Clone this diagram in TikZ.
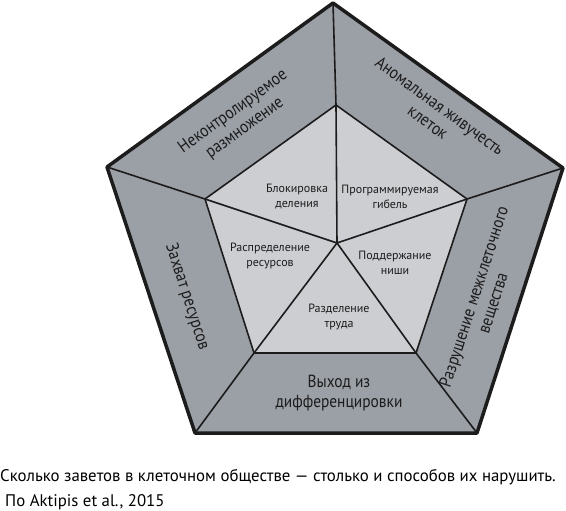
\documentclass[tikz,border=0pt]{standalone}
\usepackage{fontspec}
\setmainfont{PT Sans}
\newfontfamily\narrowfont{PT Sans}[FakeStretch=0.88]
\definecolor{bandgray}{HTML}{9B9FA6}
\definecolor{coregray}{HTML}{CDCED2}
\definecolor{inkgray}{HTML}{1C1C1C}
\tikzset{
  outerlbl/.style={align=center, font=\narrowfont\fontsize{17.5}{20}\selectfont, text=inkgray},
  innerlbl/.style={align=center, font=\fontsize{12}{15}\selectfont, text=inkgray},
  caplbl/.style={anchor=west, inner sep=0pt, font=\fontsize{16.8}{19}\selectfont}
}
\begin{document}
\begin{tikzpicture}[x=1pt, y=-1pt, line join=round]
  \useasboundingbox (0,0) rectangle (566,511);
  % outer and inner corners
  \coordinate (ot) at (333,3);
  \coordinate (or) at (563,168);
  \coordinate (obr) at (477,433);
  \coordinate (obl) at (195,433);
  \coordinate (ol) at (107,167);
  \coordinate (it) at (336,105);
  \coordinate (ir) at (467,199);
  \coordinate (ibr) at (416,353);
  \coordinate (ibl) at (254,353);
  \coordinate (il) at (205,199);
  \coordinate (c) at (337,243);
  \fill [bandgray] (ot) -- (or) -- (obr) -- (obl) -- (ol) -- cycle;
  \fill [coregray] (it) -- (ir) -- (ibr) -- (ibl) -- (il) -- cycle;
  \draw [inkgray, line width=1.6pt] (it) -- (ir) -- (ibr) -- (ibl) -- (il) -- cycle;
  \foreach \k in {t,r,br,bl,l}{
    \draw [inkgray, line width=1.6pt] (o\k) -- (i\k);
    \draw [inkgray, line width=1.6pt] (c) -- (i\k);
  }
  \draw [inkgray, line width=3.5pt] (ot) -- (or) -- (obr) -- (obl) -- (ol) -- cycle;
  % outer band labels
  \node [outerlbl, rotate=36] (repro) at (239,120) {Неконтролируемое\\размножение};
  \node [outerlbl, rotate=-36] (alive) at (434,114) {Аномальная живучесть\\клеток};
  \node [outerlbl, rotate=72] (matrix) at (484,300) {Разрушение межклеточного\\вещества};
  \node [outerlbl, rotate=-72] (grab) at (187,297) {Захват ресурсов};
  \node [outerlbl] (diff) at (339,393) {Выход из\\дифференцировки};
  % inner labels
  \node [innerlbl] (block) at (297,197) {Блокировка\\деления};
  \node [innerlbl] (death) at (390,197) {Программируемая\\гибель};
  \node [innerlbl] (share) at (270,256) {Распределение\\ресурсов};
  \node [innerlbl] (niche) at (395,263) {Поддержание\\ниши};
  \node [innerlbl] (labour) at (339,317) {Разделение\\труда};
  % caption
  \node [caplbl] (cap) at (0,477) {Сколько заветов в клеточном обществе — столько и способов их нарушить.};
  \node [caplbl] (src) at (5,502) {По Aktipis et al., 2015};
\end{tikzpicture}
\end{document}
